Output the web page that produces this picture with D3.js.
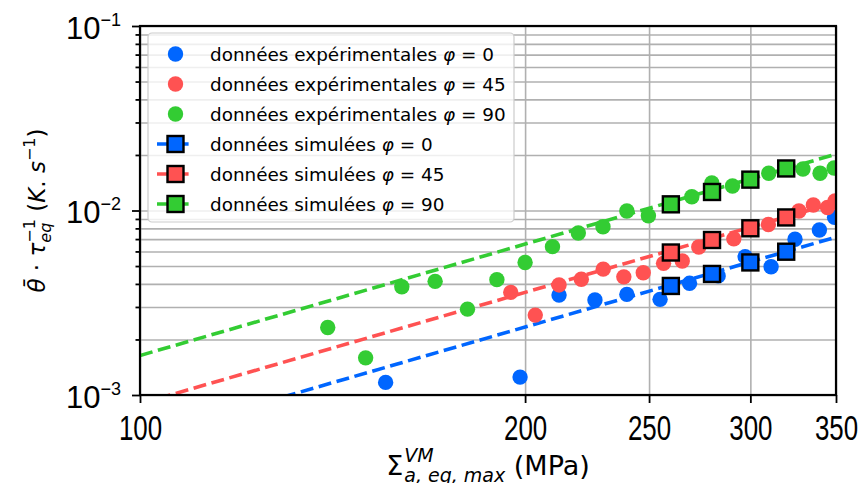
<!DOCTYPE html>
<html>
<head>
<meta charset="utf-8">
<script src="https://cdn.jsdelivr.net/npm/d3@7"></script>
<style>
  body { margin: 0; background: #fff; }
  svg { font-family: "DejaVu Sans", sans-serif; }
  .grid line { stroke: #b0b0b0; stroke-width: 1.6; }
  .grid path { display: none; }
  .axis path { display: none; }
  .axis line { stroke: #000; stroke-width: 1.8; }
</style>
</head>
<body>
<div id="chart"></div>
<script>
const expBlueX = [155.6, 198.2, 212.6, 226.8, 240.2, 255.0, 268.9, 283.1, 297.2, 311.4, 325.1, 339.7, 349.1];
const expBlueY = [0.00117, 0.00125, 0.00348, 0.00327, 0.00351, 0.00330, 0.00403, 0.00442, 0.00562, 0.00496, 0.00698, 0.00784, 0.00919];
const expRedX = [194.9, 203.7, 212.6, 221.3, 230.2, 238.9, 247.4, 256.6, 265.4, 273.4, 291.2, 309.9, 327.4, 336.0, 344.7, 349.4];
const expRedY = [0.00360, 0.00271, 0.00395, 0.00424, 0.00481, 0.00437, 0.00460, 0.00517, 0.00532, 0.00634, 0.00702, 0.00840, 0.00994, 0.01071, 0.01038, 0.01126];
const expGreenX = [140.2, 150.1, 160.2, 170.1, 180.3, 190.1, 200.0, 210.1, 220.1, 230.1, 240.2, 249.7, 270.0, 279.9, 290.5, 310.1, 329.8, 340.1, 348.8];
const expGreenY = [0.00232, 0.00159, 0.00386, 0.00413, 0.00292, 0.00422, 0.00523, 0.00637, 0.00755, 0.00817, 0.00994, 0.00937, 0.01188, 0.01410, 0.01358, 0.01591, 0.01679, 0.01591, 0.01700];

// simulated data
const simX = [260, 280, 300, 320];
const simBlueY = [0.00390, 0.00453, 0.00523, 0.00598];
const simRedY = [0.00592, 0.00692, 0.00801, 0.00917];
const simGreenY = [0.0108, 0.0126, 0.0147, 0.0169];

// fitted power laws, end points
const fitX = [100, 350];
const fitBlueY = [0.000582, 0.00717];
const fitRedY = [0.000897, 0.01105];
const fitGreenY = [0.001637, 0.0202];

const xTicks = [100, 200, 250, 300, 350];
const yMajorTicks = [1e-3, 1e-2, 1e-1];
const yMinorTicks = [2e-3, 3e-3, 4e-3, 5e-3, 6e-3, 7e-3, 8e-3, 9e-3, 2e-2, 3e-2, 4e-2, 5e-2, 6e-2, 7e-2, 8e-2, 9e-2];
const phiLabels = ['0', '45', '90'];

const width = 861;
const height = 483;
const margin = { left: 140, right: 25, top: 26, bottom: 88 };
const plotW = width - margin.left - margin.right;
const plotH = height - margin.top - margin.bottom;
const colors = ['#0066ff', '#ff5252', '#33cc33'];
const dash = '13,5.6';

const x = d3.scaleLog().domain([100, 350]).range([margin.left, width - margin.right]);
const y = d3.scaleLog().domain([1e-3, 1e-1]).range([height - margin.bottom, margin.top]);

const svg = d3.select('#chart').append('svg')
  .attr('width', width)
  .attr('height', height);

svg.append('defs').append('clipPath')
  .attr('id', 'plot-clip')
  .append('rect')
  .attr('x', margin.left)
  .attr('y', margin.top)
  .attr('width', plotW)
  .attr('height', plotH);

// grid
svg.append('g')
  .attr('class', 'grid')
  .attr('transform', `translate(${margin.left},0)`)
  .call(d3.axisLeft(y).tickValues(yMinorTicks.concat(yMajorTicks)).tickSize(-plotW).tickFormat(''));
svg.append('g')
  .attr('class', 'grid')
  .attr('transform', `translate(0,${height - margin.bottom})`)
  .call(d3.axisBottom(x).tickValues(xTicks).tickSize(-plotH).tickFormat(''));

const plot = svg.append('g').attr('clip-path', 'url(#plot-clip)');

const line = d3.line()
  .x(d => x(d[0]))
  .y(d => y(d[1]));

const fits = [fitBlueY, fitRedY, fitGreenY];
fits.forEach((fy, i) => {
  plot.append('path')
    .attr('d', line(d3.zip(fitX, fy)))
    .attr('fill', 'none')
    .attr('stroke', colors[i])
    .attr('stroke-width', 3.6)
    .attr('stroke-dasharray', dash);
});

const exps = [[expBlueX, expBlueY], [expRedX, expRedY], [expGreenX, expGreenY]];
exps.forEach((s, i) => {
  plot.append('g')
    .selectAll('circle')
    .data(d3.zip(s[0], s[1]))
    .enter()
    .append('circle')
    .attr('cx', d => x(d[0]))
    .attr('cy', d => y(d[1]))
    .attr('r', 7.7)
    .attr('fill', colors[i]);
});

const sims = [simBlueY, simRedY, simGreenY];
sims.forEach((sy, i) => {
  plot.append('g')
    .selectAll('rect')
    .data(d3.zip(simX, sy))
    .enter()
    .append('rect')
    .attr('x', d => x(d[0]) - 8)
    .attr('y', d => y(d[1]) - 8)
    .attr('width', 16)
    .attr('height', 16)
    .attr('fill', colors[i])
    .attr('stroke', '#000')
    .attr('stroke-width', 2.4);
});

// axes
const xAxis = svg.append('g')
  .attr('class', 'axis')
  .attr('transform', `translate(0,${height - margin.bottom})`)
  .call(d3.axisBottom(x).tickValues(xTicks).tickSize(8).tickPadding(11).tickFormat(d3.format('d')));
xAxis.selectAll('text')
  .attr('fill', '#000')
  .style('font-size', '36px')
  .attr('transform', 'scale(0.72,1)');

svg.append('g')
  .attr('class', 'axis')
  .attr('transform', `translate(${margin.left},0)`)
  .call(d3.axisLeft(y).tickValues(yMinorTicks).tickSize(4.5).tickFormat(''));

const yAxis = svg.append('g')
  .attr('class', 'axis')
  .attr('transform', `translate(${margin.left},0)`)
  .call(d3.axisLeft(y).tickValues(yMajorTicks).tickSize(8).tickPadding(11).tickFormat(''));
yAxis.selectAll('.tick text')
  .attr('fill', '#000')
  .attr('dy', '0.4em')
  .style('font-size', '31px')
  .each(function (d) {
    const t = d3.select(this);
    t.text('10');
    t.append('tspan')
      .attr('dy', -13)
      .style('font-size', '18px')
      .text('\u2212' + Math.round(-Math.log10(d)));
  });

// frame
svg.append('rect')
  .attr('x', margin.left)
  .attr('y', margin.top)
  .attr('width', plotW)
  .attr('height', plotH)
  .attr('fill', 'none')
  .attr('stroke', '#000')
  .attr('stroke-width', 2.2);

// x label: Σ^VM_{a, eq, max} (MPa)
const xLab = svg.append('g');
const sigma = xLab.append('text').attr('x', 0).attr('y', 0).style('font-size', '27px').text('\u03a3');
let w = sigma.node().getComputedTextLength() + 1;
const sup = xLab.append('text').attr('x', w).attr('y', -13).style('font-size', '19px').style('font-style', 'italic').text('VM');
const sub = xLab.append('text').attr('x', w).attr('y', 7).style('font-size', '19px').style('font-style', 'italic').text('a, eq, max');
w += Math.max(sup.node().getComputedTextLength(), sub.node().getComputedTextLength());
const unit = xLab.append('text').attr('x', w).attr('y', 0).style('font-size', '27px').text('\u00a0(MPa)');
w += unit.node().getComputedTextLength();
xLab.attr('transform', `translate(${margin.left + plotW / 2 - w / 2},475)`);

// y label: θ̄·τ_eq^-1 (K. s^-1)
const yLab = svg.append('g');
let pos = 0;
function addPart(txt, size, dy, italic) {
  const t = yLab.append('text')
    .attr('x', pos)
    .attr('y', dy)
    .style('font-size', size + 'px')
    .style('font-style', italic ? 'italic' : 'normal')
    .text(txt);
  return t.node().getComputedTextLength();
}
pos += addPart('\u03b8\u0304', 23, 0, true);
pos += addPart('\u00a0\u00b7\u00a0', 23, 0, false);
pos += addPart('\u03c4', 23, 0, true);
const supW = addPart('\u22121', 16, -10, false);
const subW = addPart('eq', 16, 6, true);
pos += Math.max(supW, subW);
pos += addPart('\u00a0(', 23, 0, false);
pos += addPart('K', 23, 0, true);
pos += addPart('.\u00a0', 23, 0, false);
pos += addPart('s', 23, 0, true);
pos += addPart('\u22121', 16, -10, false);
pos += addPart(')', 23, 0, false);
yLab.attr('transform', `translate(45,${margin.top + plotH / 2 + pos / 2}) rotate(-90)`);

// legend
const legend = svg.append('g');
legend.append('rect')
  .attr('x', 148)
  .attr('y', 33)
  .attr('width', 366)
  .attr('height', 189)
  .attr('rx', 4)
  .attr('fill', '#fff')
  .attr('fill-opacity', 0.8)
  .attr('stroke', '#cccccc')
  .attr('stroke-width', 1.2);

const legendRows = [];
phiLabels.forEach((p, i) => legendRows.push({ kind: 'exp', label: 'données expérimentales', phi: p, color: colors[i] }));
phiLabels.forEach((p, i) => legendRows.push({ kind: 'sim', label: 'données simulées', phi: p, color: colors[i] }));

legendRows.forEach((r, i) => {
  const cy = 54 + i * 30;
  const g = legend.append('g');
  if (r.kind === 'exp') {
    g.append('circle').attr('cx', 175.5).attr('cy', cy).attr('r', 7.7).attr('fill', r.color);
  } else {
    g.append('line')
      .attr('x1', 157).attr('x2', 194).attr('y1', cy).attr('y2', cy)
      .attr('stroke', r.color).attr('stroke-width', 3.6).attr('stroke-dasharray', dash);
    g.append('rect')
      .attr('x', 175.5 - 8).attr('y', cy - 8).attr('width', 16).attr('height', 16)
      .attr('fill', r.color).attr('stroke', '#000').attr('stroke-width', 2.4);
  }
  const t = g.append('text')
    .attr('x', 210)
    .attr('y', cy + 6.5)
    .style('font-size', '18.4px')
    .text(r.label + ' ');
  t.append('tspan').style('font-style', 'italic').text('\u03c6');
  t.append('tspan').text(' = ' + r.phi);
});
</script>
</body>
</html>
